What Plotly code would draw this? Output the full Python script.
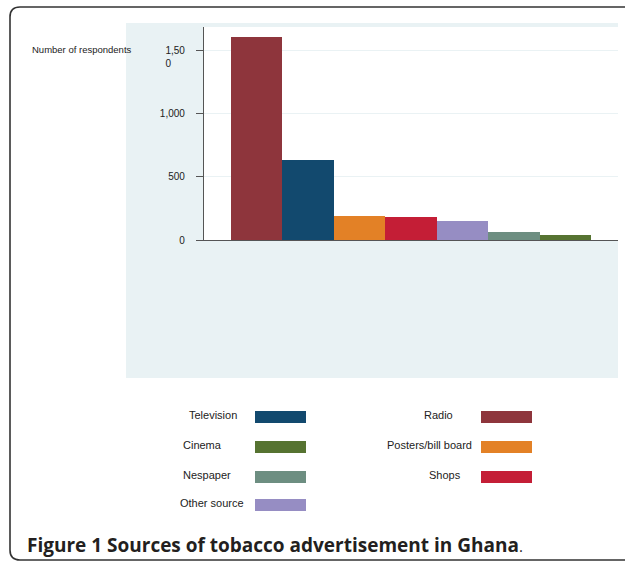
import plotly.graph_objects as go

# ---- data ----
categories = ["Radio", "Television", "Posters/bill board", "Shops",
              "Other source", "Nespaper", "Cinema"]
respondents = [1610, 631, 193, 182, 148, 61, 42]
bar_colors = ["#8E353C", "#12496E", "#E38126", "#C41E36",
              "#968DC3", "#6D8E81", "#567331"]

y_tickvals = [0, 500, 1000, 1500]
y_ticktext = ["0", "500", "1,000", "\u00a0<br>1,50<br>0" + "\u00a0" * 5]

legend_left = ["Television", "Cinema", "Nespaper", "Other source"]
legend_right = ["Radio", "Posters/bill board", "Shops"]

caption_bold = "Figure 1 Sources of tobacco advertisement in Ghana"
y_title = "Number of respondents"

# ---- geometry (pixels) ----
W, H = 625, 562
PL, PR, PT, PB = 204, 618, 27, 240  # plot area


def X(px):
    return (px - PL) / (PR - PL)


def Y(py):
    return (PB - py) / (PB - PT)


color_of = dict(zip(categories, bar_colors))

fig = go.Figure()
fig.add_trace(go.Bar(
    x=categories, y=respondents, width=1,
    marker=dict(color=bar_colors, line=dict(width=0)),
    showlegend=False,
))

shapes = []
# light panel behind chart
shapes.append(dict(type="rect", xref="paper", yref="paper",
                   x0=X(126), x1=X(618), y0=Y(378), y1=Y(23),
                   fillcolor="#E9F2F4", line=dict(width=0), layer="below"))
# white plot region
shapes.append(dict(type="rect", xref="paper", yref="paper",
                   x0=0, x1=1, y0=0, y1=1,
                   fillcolor="white", line=dict(width=0), layer="below"))

# rounded outer border (right side cut off)
r = 10
L, T, B, R = 10, 7, 560, 660
pts = (f"M {X(R)},{Y(T)} L {X(L + r)},{Y(T)} Q {X(L)},{Y(T)} {X(L)},{Y(T + r)} "
       f"L {X(L)},{Y(B - r)} Q {X(L)},{Y(B)} {X(L + r)},{Y(B)} L {X(R)},{Y(B)}")
shapes.append(dict(type="path", xref="paper", yref="paper", path=pts,
                   line=dict(color="#333333", width=1.6), layer="above"))

annotations = []
legend_font = dict(family="Liberation Sans Narrow, Arial Narrow, Liberation Sans, Arial",
                   size=11, color="#222222")

row_y = [417, 447, 477, 505]
left_label_x = [213, 202, 207, 212]
right_label_x = [438, 429, 445]
for i, name in enumerate(legend_left):
    cy = row_y[i]
    shapes.append(dict(type="rect", xref="paper", yref="paper",
                       x0=X(255), x1=X(306), y0=Y(cy + 6), y1=Y(cy - 6),
                       fillcolor=color_of[name], line=dict(width=0)))
    annotations.append(dict(x=X(left_label_x[i]), y=Y(cy - 2), xref="paper", yref="paper",
                            text=name, showarrow=False, xanchor="center",
                            yanchor="middle", font=legend_font))
for i, name in enumerate(legend_right):
    cy = row_y[i]
    shapes.append(dict(type="rect", xref="paper", yref="paper",
                       x0=X(481), x1=X(532), y0=Y(cy + 6), y1=Y(cy - 6),
                       fillcolor=color_of[name], line=dict(width=0)))
    annotations.append(dict(x=X(right_label_x[i]), y=Y(cy - 2), xref="paper", yref="paper",
                            text=name, showarrow=False, xanchor="center",
                            yanchor="middle", font=legend_font))

# y-axis title
annotations.append(dict(x=X(30), y=Y(49), xref="paper", yref="paper",
                        text=y_title, showarrow=False, xanchor="left",
                        yanchor="middle",
                        font=dict(family="Liberation Sans, Arial", size=9.5,
                                  color="#222222")))
# caption
annotations.append(dict(x=X(25), y=Y(545), xref="paper", yref="paper",
                        text=f"<b>{caption_bold}</b><span style='font-size:15px'>.</span>",
                        showarrow=False, xanchor="left", yanchor="middle",
                        font=dict(family="Open Sans, Noto Sans, sans-serif",
                                  size=19, color="#231F20")))

fig.update_layout(
    width=W, height=H, autosize=False,
    margin=dict(l=PL, r=W - PR, t=PT, b=H - PB, pad=0),
    paper_bgcolor="white", plot_bgcolor="rgba(0,0,0,0)",
    bargap=0, barmode="overlay",
    shapes=shapes, annotations=annotations,
    showlegend=False,
)
fig.update_xaxes(range=[-1.025, 7.025], showticklabels=False, ticks="",
                 showgrid=False, zeroline=False, showline=True,
                 linecolor="#555555", linewidth=1.2)
fig.update_yaxes(range=[0, 1688], tickvals=y_tickvals, ticktext=y_ticktext,
                 ticks="outside", ticklen=7, tickcolor="#555555", tickwidth=1,
                 ticklabelstandoff=9,
                 showline=True, linecolor="#555555", linewidth=1.2,
                 showgrid=True, gridcolor="#EAF2F4", gridwidth=1,
                 zeroline=False,
                 tickfont=dict(family="Liberation Sans, Arial", size=10, color="#222222"))

fig.write_html(
    "out.html",
    config={"displayModeBar": False},
    post_script="document.body.style.margin='0';"
                "document.documentElement.style.overflow='hidden';",
)
